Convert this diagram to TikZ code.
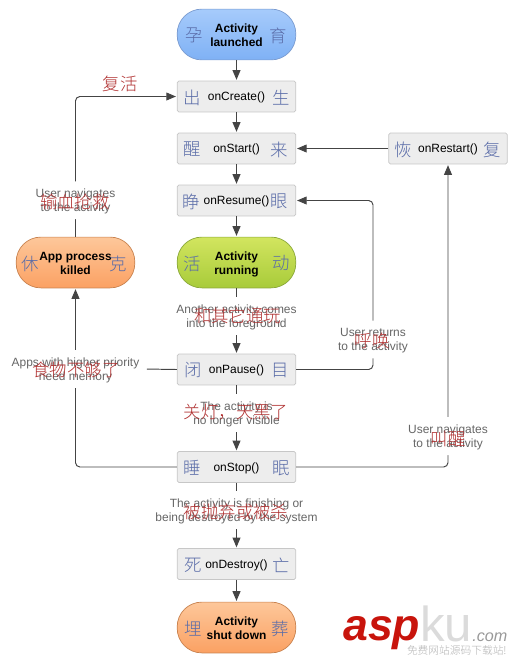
\documentclass[tikz,border=0pt]{standalone}
\usepackage{fontspec}
\setmainfont{Liberation Sans}
\newfontfamily\cjk{Noto Sans CJK SC Light}
\usepackage{tikz}
\usetikzlibrary{arrows.meta,positioning}
\definecolor{flowgray}{HTML}{444444}
\definecolor{notegray}{HTML}{666666}
\definecolor{inkblue}{HTML}{5A6CA8}
\definecolor{inkred}{HTML}{B03030}
\definecolor{blueedge}{HTML}{7A9BD0}
\definecolor{bluetop}{HTML}{A6CBFB}
\definecolor{bluebot}{HTML}{7FB1F5}
\definecolor{greenedge}{HTML}{8AA83A}
\definecolor{greentop}{HTML}{D2E55F}
\definecolor{greenbot}{HTML}{A8CB3A}
\definecolor{orangeedge}{HTML}{C8824F}
\definecolor{orangetop}{HTML}{FDC79A}
\definecolor{orangebot}{HTML}{FBA163}

\begin{document}
\begin{tikzpicture}[
  x=0.2mm, y=-0.2mm,
  font=\fontsize{6.8}{7.95}\selectfont,
  pill/.style n args={3}{draw=#1, top color=#2, bottom color=#3, rounded corners=14pt,
              minimum width=67.5pt, minimum height=28.9pt, inner sep=0pt, text height=15pt, text depth=1.5pt,
              font=\fontsize{6.8}{7.95}\selectfont\bfseries, align=center},
  stage/.style={draw=black!22, fill=black!7, rounded corners=1pt, minimum width=67.5pt,
              minimum height=17.6pt, inner sep=0pt, text height=6.5pt, text depth=1.5pt, align=center},
  note/.style={fill=white, text=notegray, align=center, inner xsep=4pt, inner ysep=2.75pt,
              text height=14.5pt, text depth=1.5pt},
  sidech/.style={text=inkblue, inner sep=0pt, font=\cjk\fontsize{9.9}{12}\selectfont},
  redch/.style={text=inkred, inner sep=0pt, font=\cjk\fontsize{9.9}{12}\selectfont},
  flow/.style={-{Triangle[length=5.5pt,width=4.5pt]}, draw=flowgray, line width=0.55pt, shorten >=0.5pt},
  plainflow/.style={draw=flowgray, line width=0.55pt}
]
\useasboundingbox (0,0) rectangle (513,663);

%% Main column
\node[pill={blueedge}{bluetop}{bluebot}] (launched) at (236.5,34.5) {Activity\\launched};
\node[stage] (onCreate) at (236.5,96.5) {onCreate()};
\node[stage] (onStart) at (236.5,148.5) {onStart()};
\node[stage] (onResume) at (236.5,200.5) {onResume()};
\node[pill={greenedge}{greentop}{greenbot}] (running) at (236.5,262.5) {Activity\\running};
\node[stage] (onPause) at (236.5,369.5) {onPause()};
\node[stage] (onStop) at (236.5,467) {onStop()};
\node[stage] (onDestroy) at (236.5,564) {onDestroy()};
\node[pill={orangeedge}{orangetop}{orangebot}] (shutdown) at (236.5,627.5) {Activity\\shut down};

%% Side boxes
\node[pill={orangeedge}{orangetop}{orangebot}] (killed) at (75.5,262.5) {App process\\killed};
\node[stage] (onRestart) at (448,148.5) {onRestart()};
\coordinate (resumeturn) at (373,200.5);

%% Straight flow
\draw[flow] (launched) -- (onCreate);
\draw[flow] (onCreate) -- (onStart);
\draw[flow] (onStart) -- (onResume);
\draw[flow] (onResume) -- (running);
\draw[flow] (running) -- node[note, pos=0.42] {Another activity comes\\into the foreground} (onPause);
\draw[flow] (onPause) -- node[note, pos=0.42] {The activity is\\no longer visible} (onStop);
\draw[flow] (onStop) -- node[note, pos=0.42] {The activity is finishing or\\being destroyed by the system} (onDestroy);
\draw[flow] (onDestroy) -- (shutdown);
\draw[flow] (onRestart) -- (onStart);

%% Loops
\draw[flow, rounded corners=2.5pt] (killed.north) |- node[note, pos=0.13] {User navigates\\to the activity} (onCreate.west);
\draw[flow, rounded corners=2.5pt] (onStop.west) -| node[note, pos=0.774] (memnote) {Apps with higher priority\\need memory} (killed.south);
\draw[plainflow] (onPause.west) -- (memnote.east);
\draw[flow, rounded corners=2.5pt] (onPause.east) -| node[note, pos=0.589] {User returns\\to the activity} (resumeturn) -- (onResume.east);
\draw[flow, rounded corners=2.5pt] (onStop.east) -| node[note, pos=0.551] {User navigates\\to the activity} (onRestart.south);

%% Blue characters beside the labels
\foreach \nm/\lc/\rc/\lx/\rx in {launched/孕/育/-42.5/41.5, onCreate/出/生/-44.5/44.5, onStart/醒/来/-44.5/42.5,
    onResume/睁/眼/-45/43, running/活/动/-44.5/44.5, onPause/闭/目/-43.5/43.5, onStop/睡/眠/-44.5/44.5,
    onDestroy/死/亡/-43.5/44.5, shutdown/埋/葬/-43.5/43.5, killed/休/克/-45.5/43, onRestart/恢/复/-44.5/44.5}{
  \node[sidech] (\nm left) at ([shift={(\lx,1)}]\nm.center) {\lc};
  \node[sidech] (\nm right) at ([shift={(\rx,1)}]\nm.center) {\rc};
}

%% Red captions
\node[redch] (revive) at (120,84) {复活};
\node[redch] (rescue) at (75,202) {输血抢救};
\node[redch] (playing) at (237.5,316) {和其它通玩};
\node[redch] (calling) at (372,341) {呼唤};
\node[redch] (hungry) at (76,370) {食物不够了};
\node[redch] (lightsoff) at (236,412) {关灯，天黑了};
\node[redch] (wakeup) at (448,439) {叫醒};
\node[redch] (discarded) at (236,512) {被抛弃或被杀};

%% Site mark
\node[anchor=base west, inner sep=0pt, text={rgb,255:red,200;green,20;blue,12},
      font=\fontsize{25.4}{26}\selectfont\bfseries\itshape] (markasp) at (343,640) {asp};
\node[anchor=base west, inner sep=0pt, text=black!14, font=\fontsize{28}{30}\selectfont] (markku) at (420,641) {ku};
\node[anchor=base west, inner sep=0pt, text=black!40, font=\fontsize{9.2}{10}\selectfont\itshape] (markcom) at (472,641) {.com};
\node[anchor=base east, inner sep=0pt, text=black!30, font=\cjk\fontsize{6.1}{7}\selectfont] (marksite) at (507,654) {免费网站源码下载站!};
\end{tikzpicture}
\end{document}
